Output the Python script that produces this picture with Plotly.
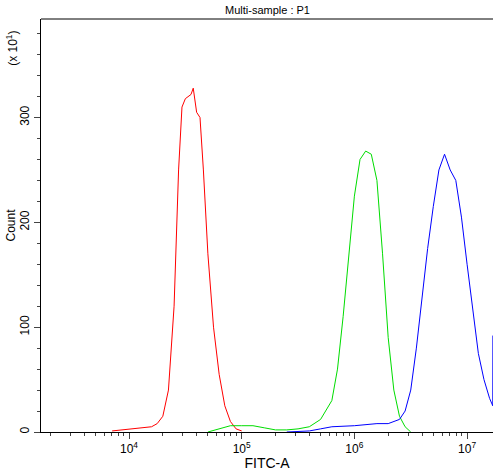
import math
import plotly.graph_objects as go

red_logx = [3.85,3.95,4.0,4.1,4.2,4.25,4.3,4.35,4.4,4.44,4.47,4.5,4.55,4.57,4.6,4.63,4.66,4.7,4.75,4.8,4.85,4.9,4.95,5.0]
red_y    = [1,2,3,4,5,8,15,40,120,250,310,318,322,328,305,300,250,170,100,55,25,10,3,1]
green_logx = [4.7,4.8,4.9,5.0,5.1,5.2,5.3,5.4,5.5,5.6,5.7,5.8,5.85,5.9,5.95,6.0,6.05,6.1,6.15,6.2,6.25,6.3,6.35,6.4,6.45,6.5]
green_y    = [0,3,6,6,6,4,2,2,3,5,12,30,60,110,170,225,260,268,265,240,170,90,40,15,5,0]
blue_logx = [5.4,5.6,5.7,5.8,6.0,6.2,6.3,6.4,6.45,6.5,6.55,6.6,6.65,6.7,6.75,6.8,6.85,6.9,6.95,7.0,7.05,7.1,7.15,7.2,7.228,7.229]
blue_y    = [0,1,3,5,6,8,8,12,20,40,80,130,175,215,250,265,250,240,205,160,115,75,50,32,25,92]

fig = go.Figure()
for lx, y, c in [(red_logx, red_y, "#ff0000"), (green_logx, green_y, "#00dd00"), (blue_logx, blue_y, "#0000ff")]:
    fig.add_trace(go.Scatter(x=[10**v for v in lx], y=y, mode="lines", line=dict(color=c, width=1), showlegend=False, cliponaxis=False))

font = dict(family="Liberation Sans, Arial", size=12, color="black")
fig.update_layout(
    width=501, height=471, margin=dict(l=41, r=8, t=19, b=39, autoexpand=False),
    plot_bgcolor="white", paper_bgcolor="white", font=font,
    xaxis=dict(type="log", range=[3.219, 7.23], showgrid=False, zeroline=False, automargin=False,
               showline=True, linecolor="black", mirror=False, ticks="outside", ticklen=6,
               tickvals=[1e4, 1e5, 1e6, 1e7], ticktext=["10<sup>4</sup>", "10<sup>5</sup>", "10<sup>6</sup>", "10<sup>7</sup>"],
               minor=dict(ticks="outside", ticklen=3, tickvals=[m*10**e for e in range(3, 8) for m in range(2, 10) if 3.219 < math.log10(m*10**e) < 7.23]),
               title=dict(text="FITC-A", standoff=0)),
    yaxis=dict(range=[0, 394], showgrid=False, zeroline=False, showline=True, linecolor="black", automargin=False,
               ticks="outside", ticklen=6, tickvals=[0, 100, 200, 300], tickangle=-90,
               minor=dict(ticks="outside", ticklen=3, dtick=20)),
    shapes=[dict(type="line", xref="paper", yref="paper", x0=0, x1=1, y0=1, y1=1, line=dict(color="black", width=1))],
    annotations=[
        dict(text="Multi-sample : P1", xref="paper", yref="paper", x=0.5, y=1.0, xanchor="center", yanchor="bottom",
             yshift=1, showarrow=False, font=dict(family="Liberation Sans, Arial", size=11)),
        dict(text="Count", xref="paper", yref="paper", x=0, y=0.5, xanchor="center", yanchor="middle",
             xshift=-31, textangle=-90, showarrow=False, font=font),
        dict(text="(x 10<sup>1</sup>)", xref="paper", yref="paper", x=0, y=0.975, xanchor="center", yanchor="top",
             xshift=-29, textangle=-90, showarrow=False, font=font)],
)
fig.write_html("out.html", config={"displayModeBar": False},
               post_script="document.body.style.margin='0';document.body.style.overflow='hidden';")
